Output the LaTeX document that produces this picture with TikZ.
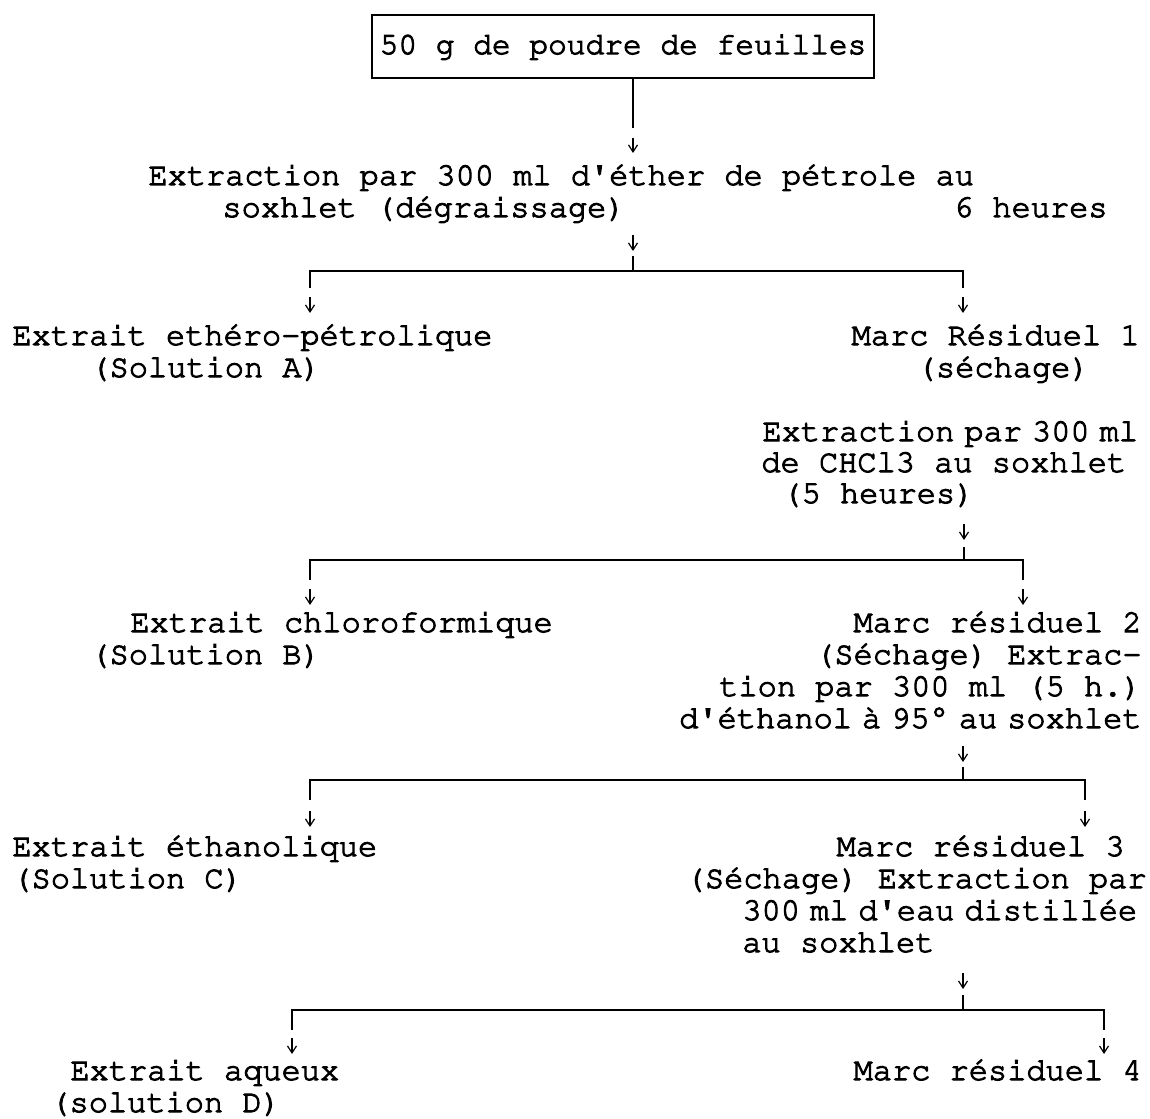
\documentclass[tikz,border=0pt]{standalone}
\usepackage[T1]{fontenc}
\usepackage{textcomp}
\usepackage{courier}
\usetikzlibrary{arrows.meta}
\newcommand\esp{\hspace{5pt}}
\newcommand\apo{\textquotesingle}
\newcommand\gras{\special{pdf:literal 2 Tr 0.5 w}}
\begin{document}
\begin{tikzpicture}[x=0.5pt,y=-0.5pt,
	txt/.style={inner sep=0pt, anchor=base west, font=\ttfamily\fontsize{16}{16}\selectfont\gras},
	txtr/.style={txt, anchor=base east},
	cadre/.style={draw, line width=0.9pt, inner sep=0pt, minimum width=251pt, minimum height=31.5pt, font=\ttfamily\fontsize{15.6}{16}\selectfont\gras},
	trait/.style={line width=0.9pt},
	fleche/.style={line width=0.6pt, -{Straight Barb[length=3.5pt,width=4.5pt]}}]
	\useasboundingbox (0,0) rectangle (1150,1118);
	% depart
	\node (poudre) at (623,46.5)	[cadre]	{50 g de poudre de feuilles};
	\coordinate (p1) at (633,128);
	\draw[trait] (poudre.south -| p1) -- (p1);
	\draw[fleche] (633,138) -- (633,153);
	% etape 1 : ether de petrole
	\node (ext1a) at (148,185)	[txt]	{Extraction par 300 ml d\apo \'ether de p\'etrole au};
	\node (ext1b) at (222,217)	[txt]	{soxhlet (d\'egraissage)};
	\node (ext1c) at (1108,217)	[txtr]	{6 heures};
	\coordinate (e1) at (633,256);
	\coordinate (b1) at (633,271);
	\coordinate (b1g) at (310,271);
	\coordinate (b1d) at (963,271);
	\draw[fleche] (633,235) -- (633,251);
	\draw[trait] (e1) -- (b1);
	\draw[trait] (b1g |- 0,288) -- (b1g) -- (b1d) -- (b1d |- 0,288);
	\draw[fleche] (b1g |- 0,297) -- (b1g |- 0,313);
	\draw[fleche] (b1d |- 0,297) -- (b1d |- 0,313);
	\node (solA1) at (12,345)	[txt]	{Extrait eth\'ero-p\'etrolique};
	\node (solA2) at (90,377)	[txt]	{(Solution A)};
	\node (marc1a) at (1140,345)	[txtr]	{Marc R\'esiduel 1};
	\node (marc1b) at (1090,377)	[txtr]	{(s\'echage)};
	% etape 2 : chloroforme
	\node (ext2a) at (762,441)	[txt]	{Extraction\esp par\esp 300\esp ml};
	\node (ext2b) at (761,472)	[txt]	{de CHCl3 au soxhlet};
	\node (ext2c) at (782,503)	[txt]	{(5 heures)};
	\coordinate (e2) at (964,547);
	\coordinate (b2) at (964,560);
	\coordinate (b2g) at (310,560);
	\coordinate (b2d) at (1023,560);
	\draw[fleche] (964,524) -- (964,540);
	\draw[trait] (e2) -- (b2);
	\draw[trait] (b2g |- 0,580) -- (b2g) -- (b2d) -- (b2d |- 0,580);
	\draw[fleche] (b2g |- 0,589) -- (b2g |- 0,605);
	\draw[fleche] (b2d |- 0,589) -- (b2d |- 0,605);
	\node (solB1) at (130,632)	[txt]	{Extrait chloroformique};
	\node (solB2) at (90,664)	[txt]	{(Solution B)};
	\node (marc2a) at (1142,632)	[txtr]	{Marc r\'esiduel 2};
	\node (marc2b) at (1142,664)	[txtr]	{(S\'echage) Extrac-};
	\node (marc2c) at (1142,696)	[txtr]	{tion par 300 ml (5 h.)};
	\node (marc2d) at (1142,728)	[txtr]	{d\apo \'ethanol\esp \`a\esp 95\textdegree\esp au\esp soxhlet};
	% etape 3 : ethanol
	\coordinate (e3) at (963,767);
	\coordinate (b3) at (963,780);
	\coordinate (b3g) at (310,780);
	\coordinate (b3d) at (1085,780);
	\draw[fleche] (963,746) -- (963,762);
	\draw[trait] (e3) -- (b3);
	\draw[trait] (b3g |- 0,800) -- (b3g) -- (b3d) -- (b3d |- 0,800);
	\draw[fleche] (b3g |- 0,811) -- (b3g |- 0,827);
	\draw[fleche] (b3d |- 0,811) -- (b3d |- 0,827);
	\node (solC1) at (12,856)	[txt]	{Extrait \'ethanolique};
	\node (solC2) at (12,888)	[txt]	{(Solution C)};
	\node (marc3a) at (1125,856)	[txtr]	{Marc r\'esiduel 3};
	\node (marc3b) at (1147,888)	[txtr]	{(S\'echage) Extraction par};
	\node (marc3c) at (742,920)	[txt]	{300\esp ml\esp d\apo eau\esp distill\'ee};
	\node (marc3d) at (742,952)	[txt]	{au soxhlet};
	% etape 4 : eau
	\coordinate (e4) at (963,995);
	\coordinate (b4) at (963,1010);
	\coordinate (b4g) at (292,1010);
	\coordinate (b4d) at (1104,1010);
	\draw[fleche] (963,973) -- (963,989);
	\draw[trait] (e4) -- (b4);
	\draw[trait] (b4g |- 0,1030) -- (b4g) -- (b4d) -- (b4d |- 0,1030);
	\draw[fleche] (b4g |- 0,1038) -- (b4g |- 0,1054);
	\draw[fleche] (b4d |- 0,1038) -- (b4d |- 0,1054);
	\node (solD1) at (70,1080)	[txt]	{Extrait aqueux};
	\node (solD2) at (50,1112)	[txt]	{(solution D)};
	\node (marc4) at (1142,1080)	[txtr]	{Marc r\'esiduel 4};
\end{tikzpicture}
\end{document}
